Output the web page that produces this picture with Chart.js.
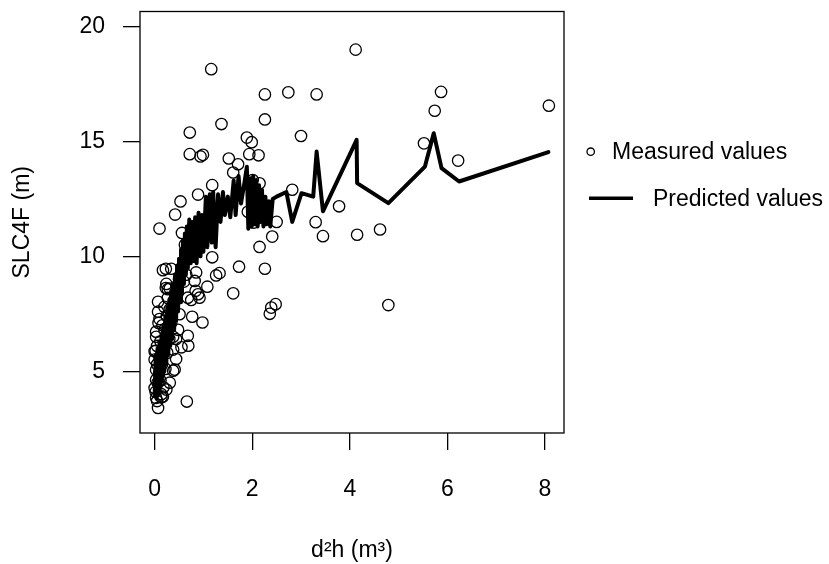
<!DOCTYPE html>
<html>
<head>
<meta charset="utf-8">
<script src="https://cdn.jsdelivr.net/npm/chart.js@4"></script>
<style>
  html, body { margin: 0; padding: 0; background: #fff; }
  #wrap { width: 829px; height: 564px; }
</style>
</head>
<body>
<div id="wrap"><canvas id="c" width="829" height="564"></canvas></div>
<script>
// measured values (d2h, SLC4F)
const measuredX = [4.12,1.16,2.26,2.74,3.32,5.87,5.74,8.08,1.37,2.26,0.72,3.0,1.89,1.99,5.52,0.72,0.94,0.99,1.94,2.13,1.52,1.71,6.22,1.61,1.18,2.82,0.89,0.53,0.42,3.78,0.10,0.56,3.30,3.45,4.15,4.62,2.50,2.41,2.15,1.18,1.73,2.26,1.26,1.61,4.79,2.48,2.36,2.39,0.98,0.77,0.68,0.69,0.55,0.44,0.38,0.66,1.08,0.89,0.84,0.92,0.68,0.82,0.51,0.23,0.34,0.62,2.15,2.01,1.91,2.03,1.33,0.75,0.07,0.07,0.03,0.03,0.0,0.0,0.03,0.03,0.0,0.03,0.07,0.23,0.27,0.31,0.34,0.38,0.38,0.41,0.31,0.24,0.17,0.24,0.31,0.14,0.02,0.44,0.10,0.27,0.85,0.12,0.15,0.18,0.20,0.25,0.14,0.10,0.12,0.16,0.20,0.05,0.05,0.08,0.06,0.18,0.22,0.26,0.30,0.35,0.40,0.45,0.50,0.58,0.60,0.48,0.65,0.17,0.02,0.05,0.09,0.13];
const measuredY = [19.0,18.15,17.05,17.14,17.05,17.16,16.34,16.56,15.76,15.96,15.39,15.24,15.17,14.97,14.92,14.45,14.35,14.42,14.45,14.4,14.26,14.01,14.17,13.65,13.1,12.9,12.69,12.39,11.82,12.18,11.21,11.02,11.49,10.88,10.94,11.17,11.5,10.86,10.41,9.96,9.55,9.46,9.17,8.39,7.88,7.92,7.5,7.77,7.12,7.37,6.54,6.11,6.04,5.53,5.02,3.68,8.68,8.35,8.5,8.2,8.2,8.93,7.48,9.46,9.46,10.51,13.18,13.32,11.94,11.47,9.27,8.1,8.02,7.59,6.72,6.5,5.87,5.51,5.06,4.63,4.27,3.84,3.4,8.62,8.19,7.7,7.1,6.5,5.94,5.07,4.5,4.2,3.9,8.8,8.6,3.87,5.89,6.4,7.27,8.57,9.3,4.6,5.3,6.0,6.8,7.4,4.0,5.6,6.3,7.0,7.8,5.3,6.1,7.1,4.5,4.3,5.1,5.8,6.4,7.5,8.1,8.7,9.0,9.5,8.9,6.8,9.2,9.4,4.1,3.7,4.9,5.7];

// predicted values, in order of d2h
const predictedX = [0.00,0.02,0.04,0.06,0.08,0.10,0.12,0.14,0.16,0.18,0.20,0.22,0.24,0.26,0.28,0.30,0.32,0.34,0.36,0.38,0.40,0.42,0.44,0.46,0.48,0.50,0.52,0.54,0.56,0.58,0.60,0.62,0.64,0.66,0.68,0.71,0.74,0.77,0.80,0.83,0.86,0.90,0.94,0.97,1.00,1.05,1.08,1.13,1.17,1.20,1.25,1.30,1.35,1.40,1.44,1.50,1.55,1.62,1.66,1.72,1.77,1.84,1.89,1.92,1.96,1.99,2.02,2.05,2.08,2.11,2.14,2.17,2.20,2.23,2.27,2.30,2.34,2.37,2.42,2.50,2.70,2.82,3.01,3.25,3.32,3.45,4.14,4.15,4.79,5.54,5.72,5.88,6.24,8.07];
const predictedY = [3.9,5.6,3.8,6.0,4.0,6.3,4.3,6.6,4.6,7.0,5.0,7.4,5.3,7.8,5.7,8.1,6.1,8.5,6.4,8.8,6.8,9.2,7.2,9.6,7.6,9.9,8.0,10.3,8.4,10.7,8.8,11.0,9.2,11.3,9.5,11.6,9.7,11.5,9.8,11.7,9.7,11.9,10.0,11.8,10.2,12.6,10.4,12.7,10.6,12.8,10.4,12.7,11.5,12.8,11.8,12.6,11.7,13.3,11.8,13.5,12.3,13.2,13.9,11.2,13.4,11.3,13.5,11.4,13.3,11.3,13.1,11.5,12.9,11.3,12.6,11.4,12.4,11.3,12.5,12.6,12.8,11.5,12.75,12.6,14.56,11.96,15.07,13.19,12.32,13.91,15.36,13.84,13.26,14.54];

const xTicks = [0, 2, 4, 6, 8];
const yTicks = [5, 10, 15, 20];
const legendLabels = ["Measured values", "Predicted values"];

const FONT = "'Liberation Sans', Arial, sans-serif";
const FS = 23;

const measured = measuredX.map((x, i) => ({x: x, y: measuredY[i]}));
const predicted = predictedX.map((x, i) => ({x: x, y: predictedY[i]}));

// box round the plot and the legend, drawn the R way
const boxAndLegend = {
  id: 'boxAndLegend',
  afterDraw(chart) {
    const ctx = chart.ctx, a = chart.chartArea;
    ctx.save();
    ctx.strokeStyle = '#000';
    ctx.lineWidth = 1.3;
    ctx.strokeRect(a.left, a.top, a.right - a.left, a.bottom - a.top);

    ctx.font = FS + 'px ' + FONT;
    ctx.fillStyle = '#000';
    ctx.textBaseline = 'middle';
    ctx.textAlign = 'left';
    // measured
    ctx.beginPath();
    ctx.arc(590.7, 151.7, 3.7, 0, Math.PI * 2);
    ctx.lineWidth = 1.3;
    ctx.stroke();
    ctx.fillText(legendLabels[0], 612, 153);
    // predicted
    ctx.beginPath();
    ctx.moveTo(589, 198.3);
    ctx.lineTo(633, 198.3);
    ctx.lineWidth = 3.5;
    ctx.stroke();
    ctx.fillText(legendLabels[1], 653, 200);
    ctx.restore();
  }
};

new Chart(document.getElementById('c'), {
  type: 'scatter',
  data: {
    datasets: [
      {
        label: legendLabels[0],
        data: measured,
        pointStyle: 'circle',
        pointRadius: 5.7,
        pointBorderWidth: 1.3,
        pointBorderColor: '#000',
        pointBackgroundColor: 'rgba(0,0,0,0)',
        showLine: false
      },
      {
        label: legendLabels[1],
        type: 'line',
        data: predicted,
        borderColor: '#000',
        borderWidth: 4,
        pointRadius: 0,
        tension: 0,
        fill: false,
        borderJoinStyle: 'round',
        borderCapStyle: 'round'
      }
    ]
  },
  options: {
    responsive: false,
    animation: false,
    layout: { padding: { top: 11.5, right: 265, left: 0, bottom: 0 } },
    plugins: { legend: { display: false }, tooltip: { enabled: false } },
    scales: {
      x: {
        type: 'linear',
        min: -0.30,
        max: 8.39,
        afterBuildTicks: s => { s.ticks = xTicks.map(v => ({value: v})); },
        afterFit: s => { s.height = 131; s.paddingLeft = 0; s.paddingRight = 0; },
        grid: { drawOnChartArea: false, drawTicks: true, tickLength: 17, color: '#000', lineWidth: 1.3 },
        border: { display: false },
        ticks: { color: '#000', font: { family: FONT, size: FS }, padding: 26, maxRotation: 0 },
        title: { display: true, text: 'd\u00B2h (m\u00B3)', color: '#000', font: { family: FONT, size: FS }, padding: { top: 0, bottom: 0 } }
      },
      y: {
        type: 'linear',
        min: 2.31,
        max: 20.66,
        afterBuildTicks: s => { s.ticks = yTicks.map(v => ({value: v})); },
        afterFit: s => { s.width = 140; s.paddingTop = 0; s.paddingBottom = 0; },
        grid: { drawOnChartArea: false, drawTicks: true, tickLength: 17, color: '#000', lineWidth: 1.3 },
        border: { display: false },
        ticks: { color: '#000', font: { family: FONT, size: FS }, padding: 18 },
        title: { display: true, text: 'SLC4F (m)', color: '#000', font: { family: FONT, size: FS }, padding: { top: 9, bottom: 0 } }
      }
    }
  },
  plugins: [boxAndLegend]
});
</script>
</body>
</html>
